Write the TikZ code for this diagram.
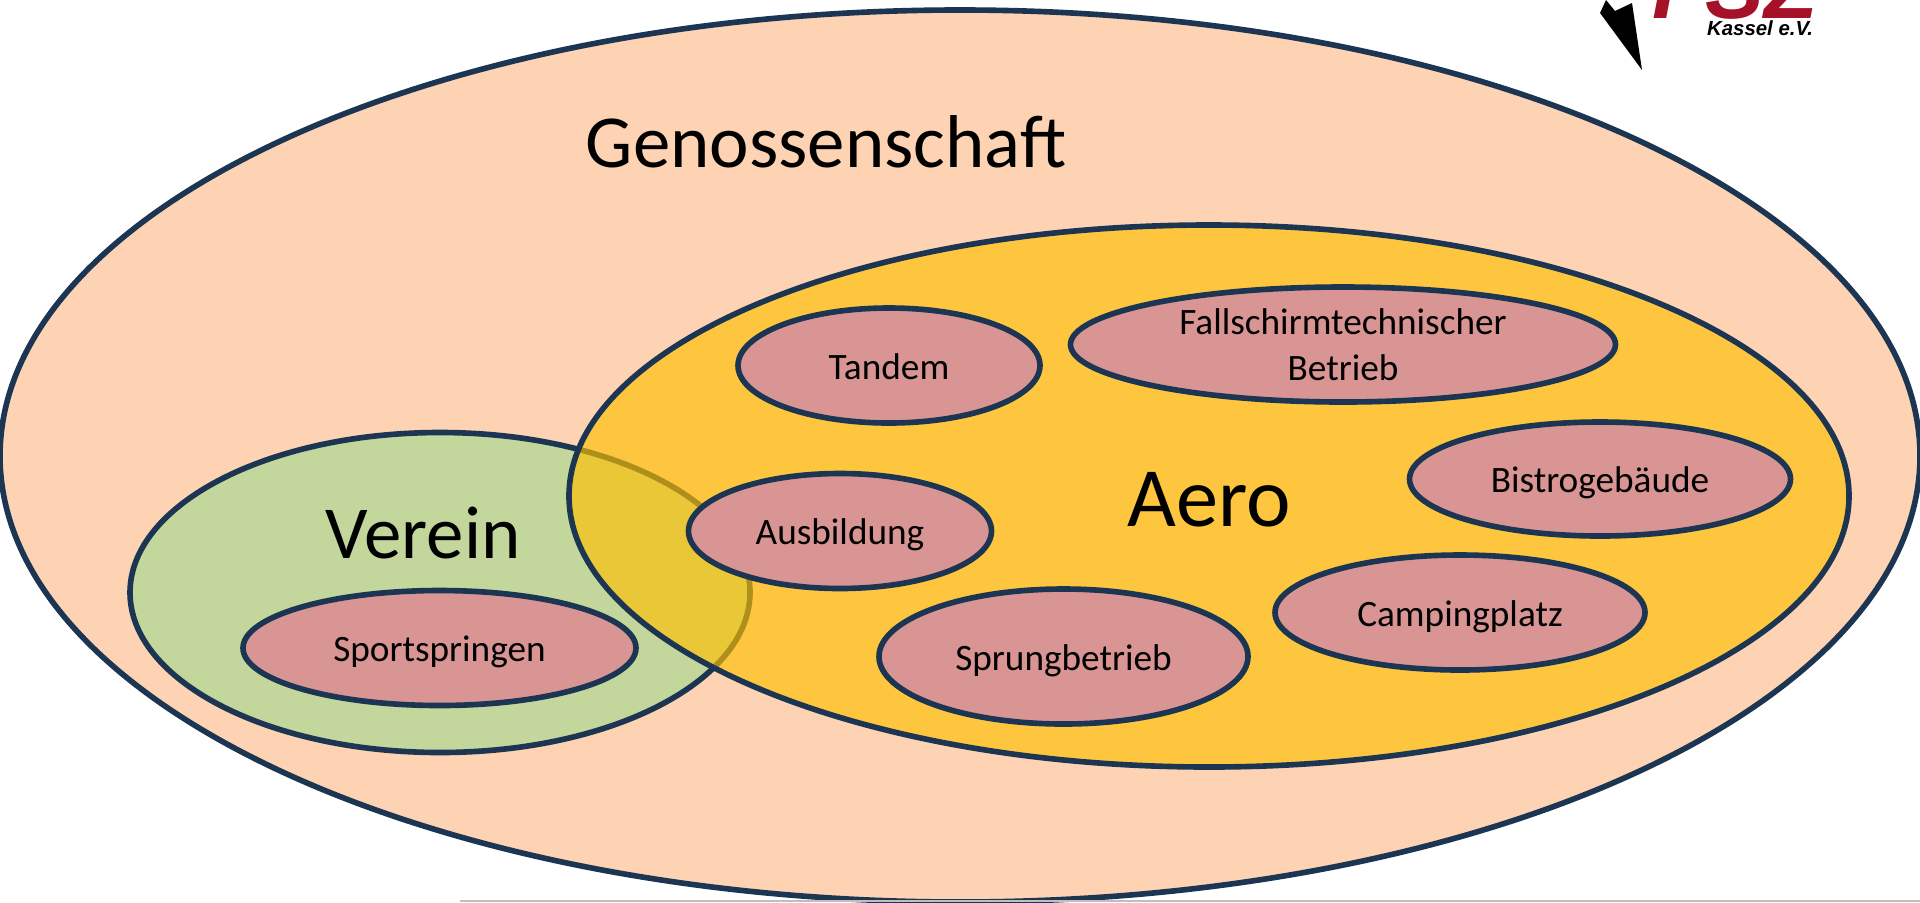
\documentclass[tikz,border=0pt]{standalone}
\usepackage{fontspec}
\setmainfont{Carlito}
\newfontfamily\logofont{Liberation Sans}
\usepackage{xcolor}
\usetikzlibrary{shapes.geometric}

\definecolor{rimblue}{HTML}{1B3553}
\definecolor{peachfill}{HTML}{FDD3B3}
\definecolor{aerofill}{HTML}{FFC000}
\definecolor{vereinfill}{HTML}{C3D69B}
\definecolor{rosefill}{HTML}{D99594}
\definecolor{logored}{HTML}{A6112A}

\tikzset{
    blob/.style={ellipse, draw=rimblue, line width=1.6pt, inner sep=0pt},
    unitblob/.style={blob, fill=rosefill, font=\fontsize{10.6}{13.2}\selectfont, align=center},
    oneline/.style={unitblob, text height=0.27cm, text depth=0cm},
    biglabel/.style={font=\fontsize{21.3}{25}\selectfont}
}

\begin{document}
\begin{tikzpicture}
            \useasboundingbox(0, 0)rectangle(19.2, 9.02);

            \node[blob, fill=peachfill, minimum width=19.2cm, minimum height=8.92cm](genossenschaft)at(9.6, 4.46){};
            \node[biglabel](genossenschaftlabel)at(8.26, 7.6){Genossenschaft};

            \node[blob, fill=vereinfill, minimum width=6.2cm, minimum height=3.2cm](verein)at(4.4, 3.095){};
            \node[biglabel](vereinlabel)at(4.23, 3.69){Verein};

            \node[blob, fill=aerofill, fill opacity=0.65, text opacity=1, font=\fontsize{24}{28}\selectfont, text height=0.62cm, minimum width=12.8cm, minimum height=5.42cm](aero)at(12.09, 4.06){Aero};

            \node[oneline, minimum width=3.93cm, minimum height=1.15cm](sportspringen)at(4.395, 2.54){Sportspringen};
            \node[oneline, minimum width=3.02cm, minimum height=1.15cm](tandem)at(8.89, 5.365){Tandem};
            \node[unitblob, minimum width=5.45cm, minimum height=1.15cm](technik)at(13.43, 5.575){Fallschirmtechnischer\\Betrieb};
            \node[oneline, minimum width=3.81cm, minimum height=1.14cm](bistro)at(16.0, 4.23){Bistrogebäude};
            \node[oneline, minimum width=3.03cm, minimum height=1.15cm](ausbildung)at(8.4, 3.71){Ausbildung};
            \node[oneline, minimum width=3.7cm, minimum height=1.15cm](camping)at(14.6, 2.895){Campingplatz};
            \node[oneline, minimum width=3.69cm, minimum height=1.35cm](sprungbetrieb)at(10.635, 2.455){Sprungbetrieb};

            \fill[black](16.06, 9.02)--(16.0, 8.89)--(16.42, 8.32)--(16.32, 8.99)--(16.15, 8.91)--cycle;
            \node[text=logored, font=\logofont\bfseries\itshape\fontsize{25}{25}\selectfont, anchor=base, inner sep=0pt](logoname)at(17.35, 8.84){FSZ};
            \node[font=\logofont\bfseries\itshape\fontsize{5.8}{6}\selectfont, anchor=base, inner sep=0pt](logoplace)at(17.6, 8.67){Kassel e.V.};

            \draw[color=black!25, line width=0.5pt](4.6, 0.01)--(19.2, 0.01);
        \end{tikzpicture}
\end{document}
